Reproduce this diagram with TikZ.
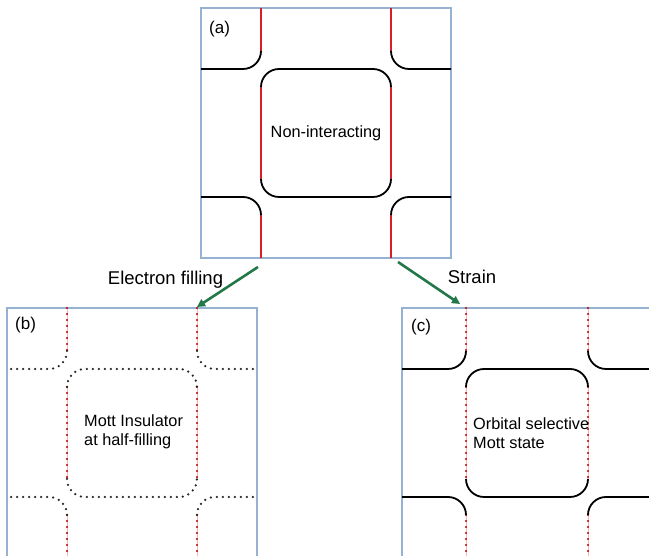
\documentclass[tikz,border=0pt]{standalone}
\usepackage{fontspec}
\setmainfont{Liberation Sans}
\usetikzlibrary{arrows.meta}
\definecolor{framecol}{RGB}{150,178,210}
\definecolor{arrowgreen}{RGB}{34,120,72}
\definecolor{bandred}{RGB}{210,32,38}

% one panel of the Fermi surface: #1 = offset of the vertical lines,
% #2 = style of the vertical parts, #3 = style of arcs and horizontals
\newcommand{\fermisurf}[3]{%
  \draw[#2] (#1,0) -- (#1,-43) (250-#1,0) -- (250-#1,-43)
            (#1,-79) -- (#1,-171) (250-#1,-79) -- (250-#1,-171)
            (#1,-207) -- (#1,-250) (250-#1,-207) -- (250-#1,-250);
  \draw[#3] (#1,-43) arc[start angle=0, end angle=-90, radius=18] -- (0,-61);
  \draw[#3] (250-#1,-43) arc[start angle=180, end angle=270, radius=18] -- (250,-61);
  \draw[#3] (#1,-207) arc[start angle=0, end angle=90, radius=18] -- (0,-189);
  \draw[#3] (250-#1,-207) arc[start angle=180, end angle=90, radius=18] -- (250,-189);
  \draw[#3] (#1,-79) arc[start angle=180, end angle=90, radius=18] -- (250-#1-18,-61)
            arc[start angle=90, end angle=0, radius=18];
  \draw[#3] (#1,-171) arc[start angle=180, end angle=270, radius=18] -- (250-#1-18,-189)
            arc[start angle=270, end angle=360, radius=18];
}

\begin{document}
\begin{tikzpicture}[x=1pt, y=1pt,
    panel/.style = {draw=framecol, line width=1.3pt, minimum width=250pt,
                    minimum height=250pt, inner sep=0pt, outer sep=0pt},
    redline/.style = {bandred, line width=1.8pt},
    blackline/.style = {black, line width=1.8pt},
    reddots/.style = {draw=red!30, line width=.6pt,
                      postaction={draw=red!70!black, line width=2.4pt, line cap=round,
                                  dash pattern=on 0pt off 6pt}},
    blackdots/.style = {black!85, line width=2.5pt, line cap=round, dash pattern=on 0pt off 6pt},
    shiftarrow/.style = {arrowgreen, line width=2.6pt, -{Triangle[length=8pt, width=8pt]}},
    tag/.style = {anchor=west, inner sep=0pt, font=\fontsize{17}{20}\selectfont},
    inside/.style = {inner sep=0pt, align=left, font=\fontsize{16.3}{19}\selectfont},
    outside/.style = {inner sep=0pt, font=\fontsize{18.5}{22}\selectfont}]
  \useasboundingbox (0,0) rectangle (649,556);
  \clip (0,0) rectangle (649,556);

  % panels
  \node[panel] (pa) at (326,423) {};
  \node[panel] (pb) at (132,123) {};
  \node[panel] (pc) at (527,123) {};

  \begin{scope}[shift={(pa.north west)}]
    \fermisurf{60}{redline}{blackline}
  \end{scope}
  \begin{scope}[shift={(pb.north west)}]
    \fermisurf{60}{reddots}{blackdots}
  \end{scope}
  \begin{scope}[shift={(pc.north west)}]
    \fermisurf{64}{reddots}{blackline}
  \end{scope}

  % labels
  \node[tag] (la) at ([shift={(8,-21)}]pa.north west) {(a)};
  \node[tag] (lb) at ([shift={(8,-17)}]pb.north west) {(b)};
  \node[tag] (lc) at ([shift={(9,-19)}]pc.north west) {(c)};
  \node[inside] (ta) at (pa.center) {Non-interacting};
  \node[inside, anchor=west] (tb) at ([shift={(-48,1)}]pb.center) {Mott Insulator\\at half-filling};
  \node[inside, anchor=west] (tc) at ([shift={(-54,0)}]pc.center) {Orbital selective\\Mott state};

  % arrows
  \draw[shiftarrow] ([shift={(-68,-9)}]pa.south) -- ([shift={(65,1)}]pb.north);
  \draw[shiftarrow] ([shift={(72,-4)}]pa.south) -- ([shift={(-67,4)}]pc.north);
  \node[outside] (ef) at (165.5,276) {Electron filling};
  \node[outside] (st) at (472,279) {Strain};
\end{tikzpicture}
\end{document}
